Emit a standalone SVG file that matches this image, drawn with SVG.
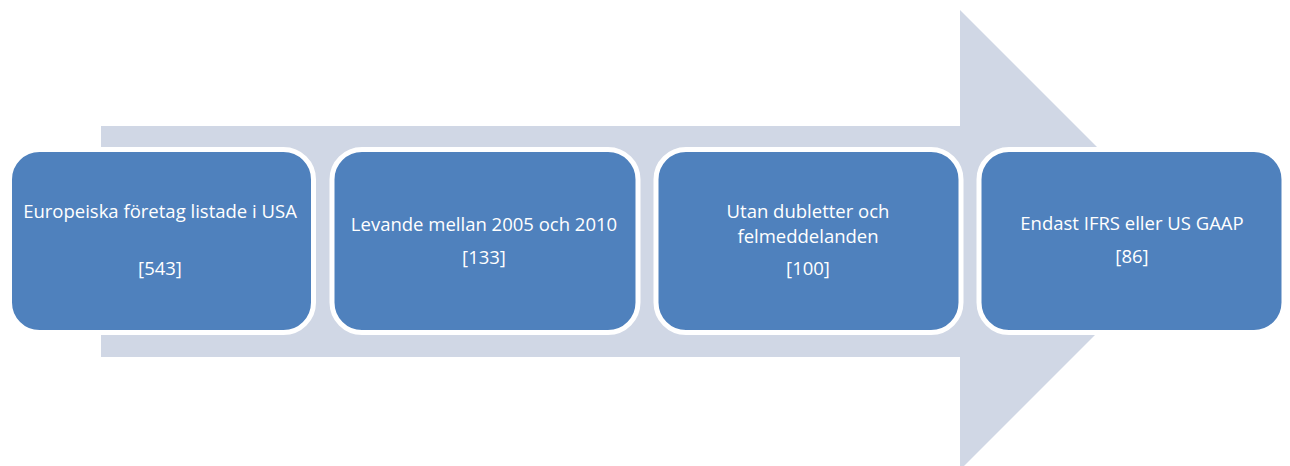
<svg xmlns="http://www.w3.org/2000/svg" width="1290" height="466" viewBox="0 0 1290 466">
<style>
.box{fill:#4F81BD;stroke:#FFFFFF;stroke-width:5}
.t{font-family:"Open Sans","Liberation Sans",sans-serif;font-size:18.5px;fill:#FFFFFF;text-anchor:middle}
</style>
<rect width="1290" height="466" fill="#FFFFFF"/>
<g id="arrow">
<polygon points="101,126 960,126 960,10 1190,240 960,470 960,357 101,357" fill="#D0D7E5"/>
</g>
<g id="connectors"></g>
<g id="n1">
<rect class="box" x="9.5" y="149.5" width="304" height="183" rx="30"/>
<text class="t" x="160" y="218">Europeiska företag listade i USA</text>
<text class="t" x="160" y="275">[543]</text>
</g>
<g id="n2">
<rect class="box" x="332" y="149.5" width="306" height="183" rx="30"/>
<text class="t" x="484" y="231">Levande mellan 2005 och 2010</text>
<text class="t" x="484" y="264">[133]</text>
</g>
<g id="n3">
<rect class="box" x="656" y="149.5" width="305" height="183" rx="30"/>
<text class="t" x="808" y="218">Utan dubletter och</text>
<text class="t" x="808" y="243">felmeddelanden</text>
<text class="t" x="808" y="275">[100]</text>
</g>
<g id="n4">
<rect class="box" x="979" y="149.5" width="305" height="183" rx="30"/>
<text class="t" x="1132" y="230">Endast IFRS eller US GAAP</text>
<text class="t" x="1132" y="263">[86]</text>
</g>
</svg>
